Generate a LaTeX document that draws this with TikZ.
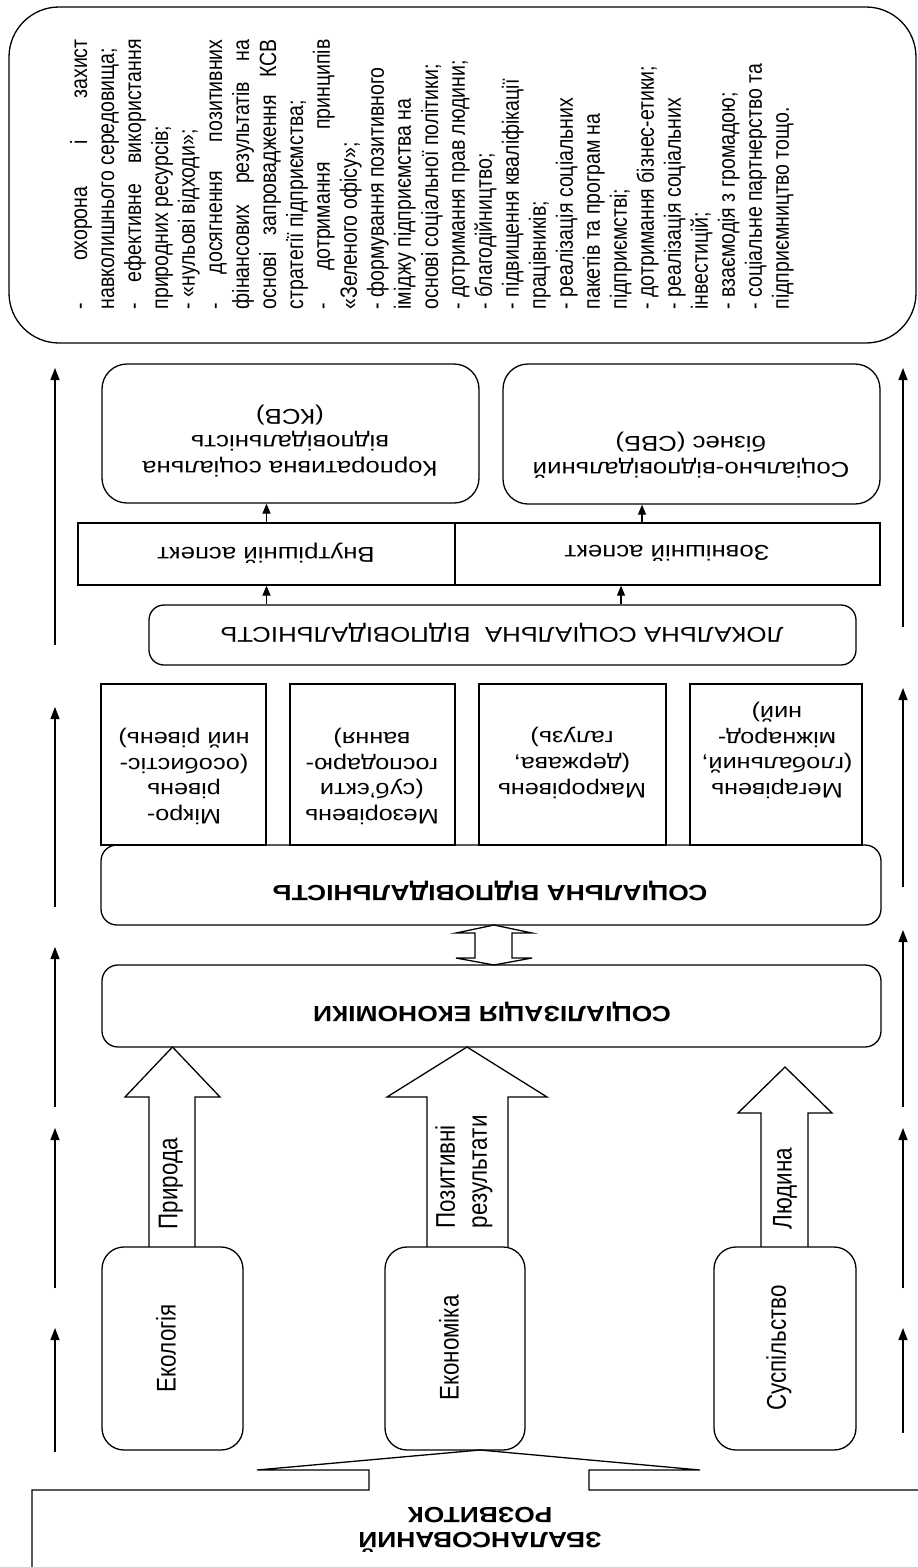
\documentclass[tikz,border=0pt]{standalone}
\usepackage{fontspec}
\setmainfont{Liberation Sans}
\newfontfamily\hfont[FakeStretch=1.2]{Liberation Sans}
\newfontfamily\vfont[FakeStretch=0.83]{Liberation Sans}
\usetikzlibrary{arrows.meta}
\newcommand\Jl[1]{\makebox[270pt][s]{#1}\par}
\newcommand\Ll[1]{\makebox[270pt][l]{#1}\par}
\begin{document}
\begin{tikzpicture}[x=1pt,y=-1pt,line width=1.3pt,
  rbox/.style={draw, rectangle, rounded corners=#1, inner sep=0pt},
  sbox/.style={draw, rectangle, inner sep=0pt},
  ht/.style={rotate=180, inner sep=0pt, align=center, font=\hfont\fontsize{21.5}{26}\selectfont},
  lt/.style={ht, font=\hfont\fontsize{21}{25.6}\selectfont},
  hb/.style={ht, font=\hfont\bfseries\fontsize{22}{25}\selectfont},
  vt/.style={rotate=90, inner sep=0pt, align=left, font=\vfont\fontsize{27}{32}\selectfont},
  arr/.style={-{Triangle[length=12pt,width=9pt]}},
  sarr/.style={-{Triangle[length=10pt,width=8pt]}},
  barrow/.style={draw, fill=white, line join=miter}]
\useasboundingbox (0,0) rectangle (918,1567);

% top list box
\node[rbox=50pt, minimum width=907, minimum height=336] (top) at (462.5,175) {};
\node[rotate=90, anchor=base west, inner sep=0pt] (list) at (87,310) {\parbox[t]{270pt}{\vfont\fontsize{23.5}{27}\selectfont
\Jl{- охорона і захист}
\Ll{навколишнього середовища;}
\Jl{- ефективне використання}
\Ll{природних ресурсів;}
\Ll{- «нульові відходи»;}
\Jl{- досягнення позитивних}
\Jl{фінансових результатів на}
\Jl{основі запровадження КСВ}
\Ll{стратегії підприємства;}
\Jl{- дотримання принципів}
\Ll{«Зеленого офісу»;}
\Ll{- формування позитивного}
\Ll{іміджу підприємства на}
\Ll{основі соціальної політики;}
\Ll{- дотримання прав людини;}
\Ll{- благодійництво;}
\Ll{- підвищення кваліфікації}
\Ll{працівників;}
\Ll{- реалізація соціальних}
\Ll{пакетів та програм на}
\Ll{підприємстві;}
\Ll{- дотримання бізнес-етики;}
\Ll{- реалізація соціальних}
\Ll{інвестицій;}
\Ll{- взаємодія з громадою;}
\Ll{- соціальне партнерство та}
\Ll{підприємництво тощо.}}};

% KSV / SVB
\node[rbox=25pt, minimum width=377, minimum height=139] (ksv) at (290.5,433.5) {};
\node[ht] (ksvt) at (290,441) {Корпоративна соціальна\\відповідальність\\(КСВ)};
\node[rbox=25pt, minimum width=377, minimum height=140] (svb) at (691.5,434) {};
\node[ht] (svbt) at (691,455) {Соціально-відповідальний\\бізнес (СВБ)};

% aspects
\node[sbox, minimum width=377, minimum height=62] (inner) at (266.5,554) {};
\node[sbox, minimum width=425, minimum height=62] (outer) at (667.5,554) {};
\node[ht] (innert) at (266,553) {Внутрішній аспект};
\node[ht] (outert) at (667,553) {Зовнішній аспект};

% local
\node[rbox=15pt, minimum width=707, minimum height=60] (lok) at (502.5,635) {};
\node[ht] (lokt) at (502,633) {ЛОКАЛЬНА СОЦІАЛЬНА\ \ ВІДПОВІДАЛЬНІСТЬ};

\coordinate (xr) at (621,0);
\coordinate (xs) at (642,0);
\draw[sarr] (lok.north -| inner.south) -- (inner.south);
\draw[sarr] (lok.north -| xr) -- (outer.south -| xr);
\draw[sarr] (inner.north) -- (ksv.south -| inner.north);
\draw[sarr] (outer.north -| xs) -- (svb.south -| xs);

% levels
\node[sbox, minimum width=165, minimum height=161] (micro) at (183.5,764.5) {};
\node[sbox, minimum width=165, minimum height=161] (mezo) at (372.5,764.5) {};
\node[sbox, minimum width=187, minimum height=161] (makro) at (572.5,764.5) {};
\node[sbox, minimum width=172, minimum height=161] (mega) at (776,764.5) {};
\node[lt] (microt) at (184,776.5) {Мікро-\\рівень\\(особистіс-\\ний рівень)};
\node[lt] (mezot) at (372,776.5) {Мезорівень\\(суб’єкти\\господарю-\\вання)};
\node[lt] (makrot) at (572,763) {Макрорівень\\(держава,\\галузь)};
\node[lt] (megat) at (777,750.5) {Мегарівень\\(глобальний,\\міжнарод-\\ний)};

% social responsibility
\node[rbox=16pt, minimum width=780, minimum height=80] (soc) at (491,885) {};
\node[hb] (soct) at (490,891) {СОЦІАЛЬНА ВІДПОВІДАЛЬНІСТЬ};

% double arrow
\draw[barrow] (475,933) -- (456,933) -- (494,925) -- (532,933) -- (512,933) -- (512,958) -- (532,958) -- (494,965) -- (456,958) -- (475,958) -- cycle;

% socialization
\node[rbox=16pt, minimum width=779, minimum height=82] (socz) at (491.5,1006) {};
\node[hb] (soczt) at (492,1012) {СОЦІАЛІЗАЦІЯ ЕКОНОМІКИ};

% block arrows
\draw[barrow] (149,1247) -- (149,1097) -- (125,1097) -- (172.5,1047) -- (220,1097) -- (195,1097) -- (195,1247);
\draw[barrow] (427,1247) -- (427,1097) -- (387,1097) -- (467,1047) -- (547,1097) -- (508,1097) -- (508,1247);
\draw[barrow] (761,1247) -- (761,1113) -- (738,1113) -- (785,1067) -- (832,1113) -- (808,1113) -- (808,1247);
\node[vt, anchor=west] (l1) at (171,1230) {Природа};
\node[vt, anchor=west] (l2) at (464,1229) {Позитивні\\результати};
\node[vt, anchor=west] (l3) at (785,1230) {Людина};

% bottom boxes
\node[rbox=22pt, minimum width=141, minimum height=203, fill=white] (eko) at (172.5,1348.5) {};
\node[rbox=22pt, minimum width=140, minimum height=203, fill=white] (econ) at (455,1348.5) {};
\node[rbox=22pt, minimum width=142, minimum height=203, fill=white] (susp) at (785,1348.5) {};
\node[vt] (ekot) at (166,1348) {Екологія};
\node[vt] (econt) at (449,1348) {Економіка};
\node[vt] (suspt) at (779,1348) {Суспільство};

% base
\draw[line join=miter] (32,1580) -- (32,1490) -- (369,1490) -- (369,1470) -- (257,1470) -- (480,1450) -- (700,1470) -- (589,1470) -- (589,1490) -- (930,1490);
\node[hb] (zb) at (480,1530) {ЗБАЛАНСОВАНИЙ\\РОЗВИТОК};

% side arrows
\draw[arr] (55,1452) -- (55,1328);
\draw[arr] (55,1288) -- (55,1128);
\draw[arr] (55,1107) -- (55,947);
\draw[arr] (55,907) -- (55,707);
\draw[arr] (55,645) -- (55,368);
\draw[arr] (903,1433) -- (903,1328);
\draw[arr] (903,1288) -- (903,1128);
\draw[arr] (903,1107) -- (903,930);
\draw[arr] (903,887) -- (903,688);
\draw[arr] (903,627) -- (903,368);
\end{tikzpicture}
\end{document}
